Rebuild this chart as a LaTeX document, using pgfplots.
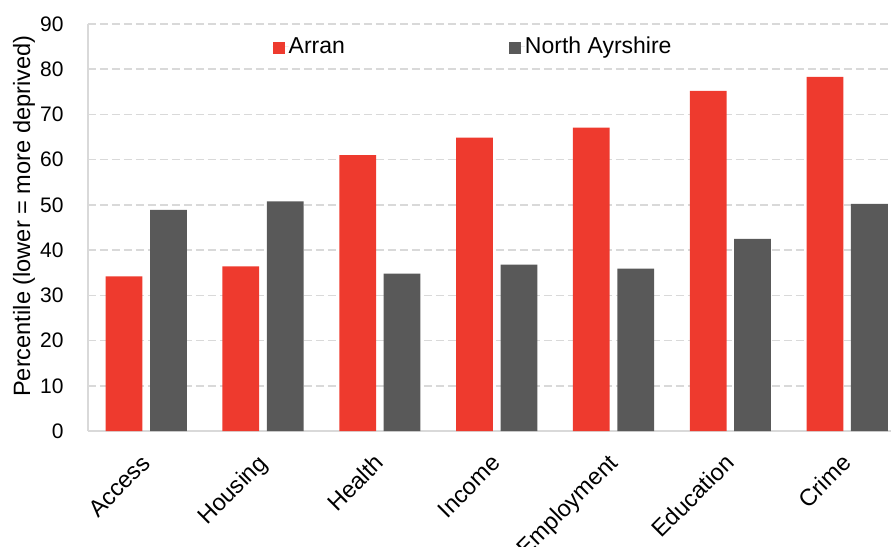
\documentclass[border=0pt]{standalone}
\usepackage{pgfplots}
\pgfplotsset{compat=1.18}
\usepackage{fontspec}
\setmainfont{Liberation Sans}
\definecolor{arran}{RGB}{238,58,46}
\definecolor{nay}{RGB}{89,89,89}
\definecolor{gridc}{RGB}{217,217,217}
\begin{document}
\begin{tikzpicture}
\begin{axis}[
 name=ax, at={(0,0)}, anchor=south west,
 scale only axis, width=803.2pt, height=407pt,
 xmin=-0.5, xmax=6.375, ymin=0, ymax=90,
 ytick={0,10,...,90},
 xtick={0,...,6},
 xticklabels={Access,Housing,Health,Income,Employment,Education,Crime},
 major tick length=0pt,
 axis x line*=bottom, axis y line*=left,
 axis line style={-, draw=gridc, line width=1.5pt},
 ymajorgrids, grid style={draw=gridc, line width=1.5pt, dash pattern=on 8pt off 4pt},
 /pgf/number format/assume math mode=true,
 yticklabel style={font=\fontsize{21}{24}\selectfont, inner sep=0pt, anchor=east, xshift=-24pt},
 xticklabel style={font=\fontsize{23.5}{26}\selectfont, inner sep=0pt, xshift=5.5pt, yshift=-33.6pt, rotate=45, anchor=base east},
 ylabel={Percentile (lower = more deprived)},
 ylabel style={font=\fontsize{23.6}{27}\selectfont, at={(axis description cs:-0.0794,0.528)}, anchor=center},
 ybar, bar width=0.315,
 legend columns=2,
 legend style={at={(axis description cs:0.230,0.945)}, anchor=west, draw=none, fill=none, inner sep=0pt,
   font=\fontsize{23}{27}\selectfont, nodes={inner sep=0pt},
   /tikz/every even column/.append style={column sep=164pt}},
]
\addplot[fill=arran, draw=none, bar shift=-0.19,
  legend image code/.code={\fill[arran] (0pt,-7.5pt) rectangle (12pt,4.5pt); \path (0pt,0pt) -- (16pt,0pt);}]
  coordinates {(0,34.2)(1,36.4)(2,61.0)(3,64.9)(4,67.1)(5,75.2)(6,78.3)};
\addplot[fill=nay, draw=none, bar shift=0.19,
  legend image code/.code={\fill[nay] (0pt,-7.5pt) rectangle (12pt,4.5pt); \path (0pt,0pt) -- (16pt,0pt);}]
  coordinates {(0,48.9)(1,50.8)(2,34.8)(3,36.8)(4,35.9)(5,42.5)(6,50.2)};
\legend{Arran, North Ayrshire}
\end{axis}
\pgfresetboundingbox
\path[use as bounding box] (ax.south west) ++(-87.8pt,-115pt) rectangle ++(891pt,546pt);
\end{tikzpicture}
\end{document}
